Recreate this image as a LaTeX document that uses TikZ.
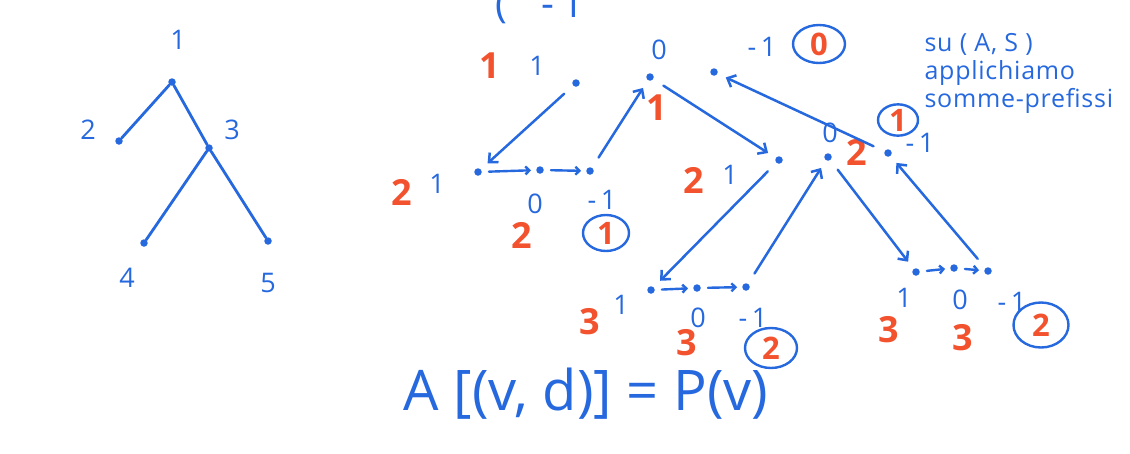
\documentclass[tikz,border=0pt]{standalone}
\definecolor{penblue}{RGB}{38,104,222}
\definecolor{penred}{RGB}{242,82,45}
\usepackage{fontspec}
\setmainfont{Open Sans}
\newfontfamily\handfont[LetterSpace=3]{Open Sans}
\usepackage{tikz}
\usetikzlibrary{shapes.geometric, arrows.meta}
\tikzset{
  dot/.style={circle, fill=penblue, inner sep=0pt, minimum size=7.5pt},
  edge/.style={penblue, line width=2.8pt, line cap=round},
  arrow/.style={-{Straight Barb[length=7pt,width=13pt]}, penblue, line width=2.5pt,
    line cap=round, shorten <=12pt, shorten >=9pt},
  hop/.style={-{Straight Barb[length=4pt,width=8pt]}, penblue, line width=2.4pt,
    line cap=round, shorten <=7pt, shorten >=5pt},
  num/.style={text=penblue, font=\fontsize{27}{27}\selectfont},
  rnum/.style={text=penred, font=\fontsize{36}{36}\selectfont\bfseries},
}

\begin{document}
\begin{tikzpicture}[x=1pt, y=-1pt,
  ring/.style={ellipse, draw=penblue, line width=2.4pt, inner sep=0pt,
    text=penred, font=\fontsize{31}{31}\selectfont\bfseries},
]
\useasboundingbox (0,0) rectangle (1130,453);

% the tree
\node[dot] (t1) at (172,82)  {};
\node[dot] (t2) at (119,141) {};
\node[dot] (t3) at (209,148) {};
\node[dot] (t4) at (144,243) {};
\node[dot] (t5) at (268,241) {};
\draw[edge] (t1) -- (t2);
\draw[edge] (t1) -- (t3);
\draw[edge] (t3) -- (t4);
\draw[edge] (t3) -- (t5);
\node[num] (n1) at (178,40)  {1};
\node[num] (n2) at (88,130)  {2};
\node[num] (n3) at (232,130) {3};
\node[num] (n4) at (127,278) {4};
\node[num] (n5) at (268,283) {5};

% cut off at the top
\node[num, font=\fontsize{40}{40}\selectfont] (top) at (540,6) {(\hspace{34pt}-\,1};

% node 1
\node[dot] (v1a) at (576,83) {};
\node[dot] (v1b) at (650,77) {};
\node[dot] (v1c) at (714,72) {};
\node[rnum] (r1)  at (490,66)  {1};
\node[num]  (d1)  at (537,66)  {1};
\node[num]  (z1)  at (659,50)  {0};
\node[rnum] (r1b) at (657,108) {1};
\node[num]  (m1)  at (762,47)  {-\,1};
\node[ring, minimum width=52pt, minimum height=38pt] (c1) at (819,44) {0};

% node 2
\node[dot] (v2a) at (478,172) {};
\node[dot] (v2b) at (540,170) {};
\node[dot] (v2c) at (590,171) {};
\draw[hop] (v2a) -- (v2b);
\draw[hop] (v2b) -- (v2c);
\node[rnum] (r2)  at (402,192) {2};
\node[num]  (d2)  at (437,184) {1};
\node[num]  (z2)  at (535,204) {0};
\node[num]  (m2)  at (602,200) {-\,1};
\node[rnum] (r2b) at (522,235) {2};
\node[ring, minimum width=46pt, minimum height=36pt] (c2) at (606,233) {1};

% node 3
\node[dot] (v3a) at (779,160) {};
\node[dot] (v3b) at (828,157) {};
\node[dot] (v3c) at (888,153) {};
\node[rnum] (r3)  at (694,180) {2};
\node[num]  (d3)  at (730,175) {1};
\node[num]  (z3)  at (830,133) {0};
\node[rnum] (r3b) at (857,152) {2};
\node[num]  (m3)  at (920,143) {-\,1};
\node[ring, minimum width=40pt, minimum height=31pt] (c3) at (898,120) {1};

% node 4
\node[dot] (v4a) at (651,290) {};
\node[dot] (v4b) at (697,288) {};
\node[dot] (v4c) at (746,287) {};
\draw[hop] (v4a) -- (v4b);
\draw[hop] (v4b) -- (v4c);
\node[rnum] (r4)  at (590,322) {3};
\node[num]  (d4)  at (621,305) {1};
\node[num]  (z4)  at (698,318) {0};
\node[num]  (m4)  at (753,318) {-\,1};
\node[rnum] (r4b) at (687,343) {3};
\node[ring, minimum width=52pt, minimum height=40pt] (c4) at (771,348) {2};

% node 5
\node[dot] (v5a) at (916,272) {};
\node[dot] (v5b) at (954,268) {};
\node[dot] (v5c) at (988,271) {};
\draw[hop] (v5a) -- (v5b);
\draw[hop] (v5b) -- (v5c);
\node[num]  (d5)  at (904,298) {1};
\node[num]  (z5)  at (960,300) {0};
\node[num]  (m5)  at (1012,302) {-\,1};
\node[rnum] (r5)  at (889,330) {3};
\node[rnum] (r5b) at (963,338) {3};
\node[ring, minimum width=55pt, minimum height=45pt] (c5) at (1041,325) {2};

% the tour
\draw[arrow] (v1a) -- (v2a);
\draw[arrow] (v2c) -- (v1b);
\draw[arrow] (v1b) -- (v3a);
\draw[arrow] (v3a) -- (v4a);
\draw[arrow] (v4c) -- (v3b);
\draw[arrow] (v3b) -- (v5a);
\draw[arrow] (v5c) -- (v3c);
\draw[arrow] (v3c) -- (v1c);

\node[num, font=\fontsize{25}{28}\handfont, anchor=west, align=left] (note) at (921,73)
  {su ( A, S )\\applichiamo\\somme-prefissi};

\node[text=penblue, font=\fontsize{56}{56}\selectfont] (eq) at (586,394) {A [(v, d)] = P(v)};

\end{tikzpicture}
\end{document}
